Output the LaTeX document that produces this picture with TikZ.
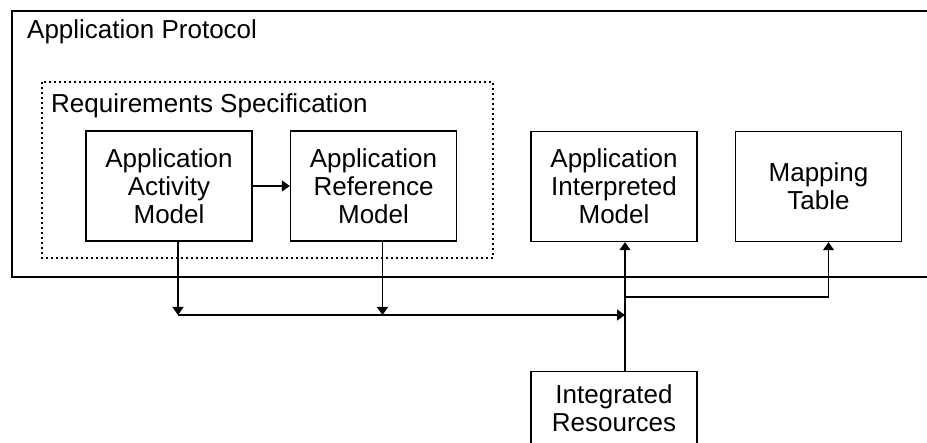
\documentclass[tikz,border=0pt]{standalone}
\usepackage{fontspec}
\setmainfont{Liberation Sans}
\usepackage{tikz}
\usetikzlibrary{arrows.meta,calc,positioning}
\tikzset{
  wire/.style={line width=1.4pt, line cap=butt, line join=miter},
  link/.style={wire, -{Triangle[length=8pt, width=11pt]}},
  frame/.style={wire},
  spec/.style={line width=1.4pt, dash pattern=on 2pt off 3pt},
  model/.style={
    draw,
    wire,
    fill=white,
    align=center,
    font=\fontsize{26}{28}\selectfont,
    inner sep=2pt,
    minimum width=166pt,
    minimum height=110pt
  },
  caption/.style={font=\fontsize{26}{28}\selectfont, anchor=base west, inner sep=0pt}
}

\begin{document}
\begin{tikzpicture}[x=1pt,y=-1pt]
\clip (0,0) rectangle (927,443);
\fill[white] (0,0) rectangle (927,443);

\draw[frame] (12,11) rectangle (945,277);
\node[caption] (protocol) at (27,39) {Application Protocol};

\draw[spec] (42,82) rectangle (493,258);
\node[caption] (reqspec) at (51,113) {Requirements Specification};

\node[model] (aam) at (169,186) {Application\\Activity\\Model};
\node[model] (arm) at (373.5,186) {Application\\Reference\\Model};
\node[model] (aim) at (614,186.5) {Application\\Interpreted\\Model};
\node[model] (mt) at (818.5,186.5) {Mapping\\Table};
\node[model, minimum height=74pt] (ir) at (614,408.5) {Integrated\\Resources};

\coordinate (trunk) at (625,315);
\coordinate (fork) at (625,297);

\draw[link] (aam.east) -- (arm.west);
\draw[link] ([xshift=9pt]aam.south) -- ([xshift=9pt]aam.south |- trunk) coordinate (tapA);
\draw[link] ([xshift=9pt]arm.south) -- ([xshift=9pt]arm.south |- trunk);
\draw[link] (tapA) -- (trunk);
\draw[link] (ir.north -| trunk) -- (aim.south -| trunk);
\draw[link] (fork) -| ([xshift=10pt]mt.south);
\end{tikzpicture}
\end{document}
